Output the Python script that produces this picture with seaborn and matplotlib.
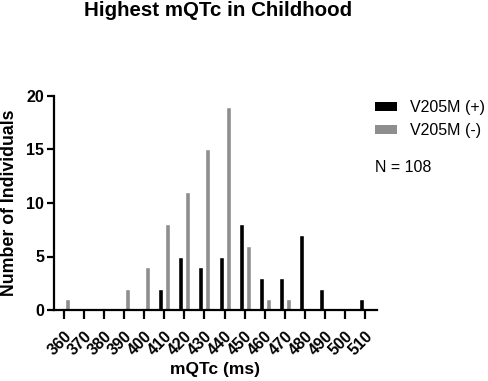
import numpy as np
import pandas as pd
import seaborn as sns
import matplotlib.pyplot as plt
from matplotlib.patches import Patch

# data
mqtc = [360, 370, 380, 390, 400, 410, 420, 430, 440, 450, 460, 470, 480, 490, 500, 510]
pos_counts = [0, 0, 0, 0, 0, 2, 5, 4, 5, 8, 3, 3, 7, 2, 0, 1]    # V205M (+)
neg_counts = [1, 0, 0, 2, 4, 8, 11, 15, 19, 6, 1, 1, 0, 0, 0, 0]  # V205M (-)
groups = ["V205M (+)", "V205M (-)"]
colors = ["black", "#8e8e8e"]

df = pd.DataFrame({
    "mQTc": [str(v) for v in mqtc] * 2,
    "count": pos_counts + neg_counts,
    "group": [groups[0]] * len(mqtc) + [groups[1]] * len(mqtc),
})

sns.set_style("ticks")
plt.rcParams['font.family'] = ['Liberation Sans', 'DejaVu Sans']
plt.rcParams['font.weight'] = 'bold'
for key in ['text.color', 'axes.labelcolor', 'xtick.color', 'ytick.color', 'axes.edgecolor']:
    plt.rcParams[key] = 'black'

fig = plt.figure(figsize=(4.89, 3.81), dpi=100)
ax = fig.add_axes([54 / 489, 71 / 381, 323 / 489, 214 / 381])

sns.barplot(data=df, x="mQTc", y="count", hue="group", palette=colors,
            width=0.7, gap=0.29, saturation=1, legend=False, ax=ax)

ax.set_xlim(-0.5, 15.6)
ax.set_ylim(0, 20)
ax.set_yticks([0, 5, 10, 15, 20])

for side in ["top", "right"]:
    ax.spines[side].set_visible(False)
for side in ["left", "bottom"]:
    ax.spines[side].set_linewidth(1.6)

ax.tick_params(axis='x', length=6.5, width=1.6, pad=7, labelsize=11.5)
ax.tick_params(axis='y', length=5, width=1.6, pad=2, labelsize=11.5)
plt.setp(ax.get_xticklabels(), rotation=45, ha='right', va='top', rotation_mode='anchor',
         fontweight='bold')
plt.setp(ax.get_yticklabels(), fontweight='bold')

ax.set_xlabel("mQTc (ms)", fontsize=12.5, fontweight='bold', va='top')
ax.xaxis.set_label_coords(0.5, -0.243)
ax.set_ylabel("Number of Individuals", fontsize=12.8, fontweight='bold')
ax.yaxis.set_label_coords(-0.11, 0.5)

fig.text(218 / 489, 1 - 10.2 / 381, "Highest mQTc in Childhood", ha='center', va='center',
         fontsize=14.8, fontweight='bold')

handles = [Patch(facecolor=c, edgecolor='none') for c in colors]
leg = fig.legend(handles, groups, loc='upper left', bbox_to_anchor=(375 / 489, 1 - 100 / 381),
                 frameon=False, fontsize=11.5, borderpad=0, borderaxespad=0,
                 handlelength=1.4, handleheight=0.5, handletextpad=0.8, labelspacing=0.5)
for t in leg.get_texts():
    t.set_fontweight('normal')
fig.text(375 / 489, 1 - 168 / 381, "N = 108", ha='left', va='center', fontsize=11.5,
         fontweight='normal')

fig.savefig("out.png", dpi=100)
